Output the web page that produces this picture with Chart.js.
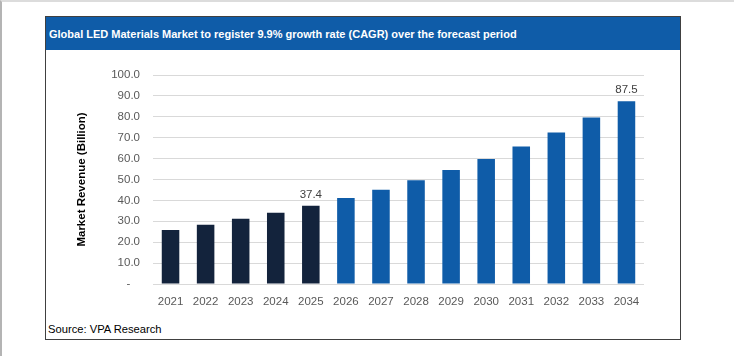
<!DOCTYPE html>
<html>
<head>
<meta charset="utf-8">
<script src="https://cdn.jsdelivr.net/npm/chart.js@4.4.1/dist/chart.umd.min.js"></script>
<style>
  html, body { margin:0; padding:0; background:#fff; width:734px; height:356px; overflow:hidden; }
  #page { position:absolute; left:0; top:0; width:732px; height:354px; border-top:2px solid #dcdcdc; border-left:2px solid #b4b4b4; }
  #frame { position:absolute; left:45px; top:16px; width:634px; height:322px; border:1px solid #404040; background:#fff; }
  #title { position:absolute; left:0; top:0; width:634px; height:33px; background:#0f5ca8; color:#fff;
           font-family:"Liberation Sans Narrow", "Liberation Sans", sans-serif; font-weight:bold; font-size:11px;
           line-height:34px; padding-left:3px; box-sizing:border-box; white-space:nowrap; }
  #source { position:absolute; left:48px; top:323px; font-family:"Liberation Sans Narrow", "Liberation Sans", sans-serif;
            font-size:11.2px; color:#000; white-space:nowrap; }
  #c { position:absolute; left:0; top:0; }
</style>
</head>
<body>
<div id="page"></div>
<div id="frame"><div id="title">Global LED Materials Market to register 9.9% growth rate (CAGR) over the forecast period</div></div>
<div id="source">Source: VPA Research</div>
<canvas id="c" width="734" height="356"></canvas>
<script>
// ---- data ----
const years = ['2021','2022','2023','2024','2025','2026','2027','2028','2029','2030','2031','2032','2033','2034'];
const revenue = [25.8, 28.4, 31.2, 34.1, 37.4, 41.1, 45.1, 49.6, 54.5, 59.8, 65.8, 72.5, 79.7, 87.5];
const actualYears = ['2021','2022','2023','2024','2025'];
const labeledYears = ['2025','2034'];
const yTickValues = [0, 10, 20, 30, 40, 50, 60, 70, 80, 90, 100];
const yAxisTitle = 'Market Revenue (Billion)';

// ---- styles ----
const NAVY = '#13233c';
const BLUE = '#0f5ca8';
const TICK_COLOR = '#595959';
const FONT = '"Liberation Sans", sans-serif';

const valueLabels = {
  id: 'valueLabels',
  afterDatasetsDraw(chart) {
    const ctx = chart.ctx;
    const meta = chart.getDatasetMeta(0);
    ctx.save();
    ctx.font = '11.5px ' + FONT;
    ctx.fillStyle = '#404040';
    ctx.textAlign = 'center';
    ctx.textBaseline = 'alphabetic';
    years.forEach((y, i) => {
      if (!labeledYears.includes(y)) return;
      const el = meta.data[i];
      ctx.fillText(revenue[i].toFixed(1), el.x, el.y - 8);
    });
    ctx.restore();
  }
};

new Chart(document.getElementById('c'), {
  type: 'bar',
  data: {
    labels: years,
    datasets: [{
      data: revenue,
      backgroundColor: years.map(y => actualYears.includes(y) ? NAVY : BLUE),
      borderWidth: 0,
      barPercentage: 0.5,
      categoryPercentage: 1.0
    }]
  },
  options: {
    responsive: false,
    animation: false,
    devicePixelRatio: 1,
    layout: { padding: { left: 75, right: 90, top: 75, bottom: 42 } },
    plugins: { legend: { display: false }, tooltip: { enabled: false } },
    scales: {
      x: {
        grid: { display: false, drawTicks: false },
        border: { display: false },
        ticks: { color: TICK_COLOR, font: { family: FONT, size: 11.5 }, padding: 11, maxRotation: 0, autoSkip: false },
        afterFit(s) { s.height = 30; }
      },
      y: {
        min: 0, max: 100,
        afterBuildTicks(s) { s.ticks = yTickValues.map(v => ({ value: v })); },
        ticks: {
          color: TICK_COLOR, font: { family: FONT, size: 11.5 }, padding: 13,
          callback: v => v === 0 ? '-   ' : v.toFixed(1)
        },
        grid: { color: '#d9d9d9', lineWidth: 1, drawTicks: false },
        border: { display: false },
        title: { display: true, text: yAxisTitle, color: '#000',
                 font: { family: '"Liberation Sans Narrow", "Liberation Sans", sans-serif', size: 11.5, weight: 'bold' },
                 padding: 0 },
        afterFit(s) { s.width = 78; }
      }
    }
  },
  plugins: [valueLabels]
});
</script>
</body>
</html>
